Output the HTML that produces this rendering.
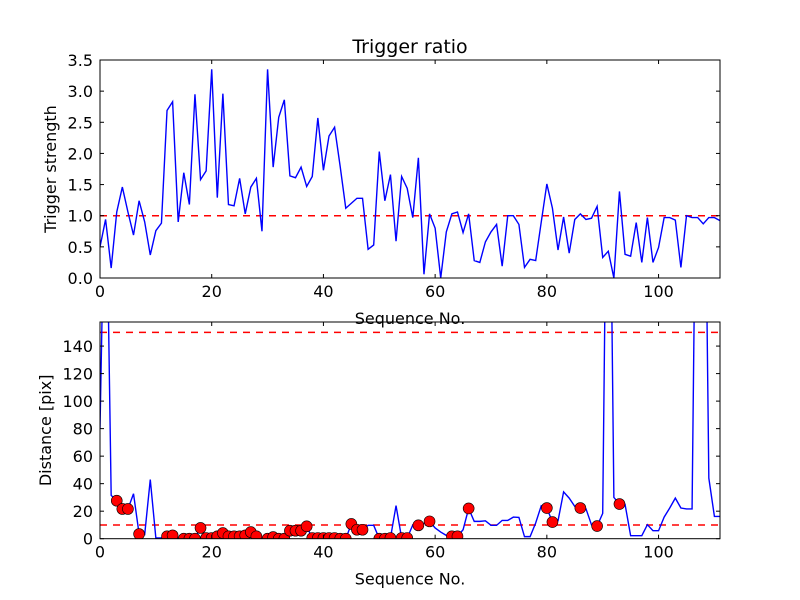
<!DOCTYPE html>
<html><head><meta charset="utf-8">
<style>
html,body{margin:0;padding:0;background:#fff;}
svg{display:block;font-family:"DejaVu Sans","Liberation Sans",sans-serif;}
</style></head>
<body>
<svg id="fig" width="800" height="600" viewBox="0 0 800 600">
<rect width="800" height="600" fill="#fff"/>
<defs>
<clipPath id="c1"><rect x="100" y="60" width="620" height="218"/></clipPath>
<clipPath id="c2"><rect x="100" y="322" width="620" height="216.7"/></clipPath>
</defs>
<g id="g1"></g>
<g id="g2"></g>
</svg>
<script>
const ratioValues = [0.50,0.94,0.16,1.06,1.46,1.06,0.69,1.24,0.90,0.37,0.76,0.88,2.69,2.83,0.90,1.69,1.18,2.95,1.58,1.72,3.35,1.29,2.96,1.18,1.16,1.60,1.03,1.46,1.60,0.75,3.35,1.78,2.58,2.86,1.64,1.61,1.78,1.47,1.63,2.57,1.73,2.28,2.42,1.79,1.12,1.20,1.28,1.28,0.46,0.53,2.03,1.24,1.66,0.59,1.63,1.44,0.97,1.93,0.06,1.03,0.80,0.00,0.74,1.03,1.06,0.73,1.03,0.28,0.25,0.58,0.74,0.86,0.19,1.00,1.00,0.86,0.17,0.30,0.28,0.90,1.51,1.12,0.45,0.98,0.40,0.94,1.03,0.94,0.96,1.15,0.33,0.43,0.00,1.39,0.38,0.35,0.89,0.25,0.97,0.25,0.49,0.97,0.97,0.93,0.17,1.00,0.97,0.97,0.87,0.97,0.97,0.92];
const distanceValues = [80,300,31.5,27.6,21.6,21.6,32.7,3.4,3,43,0.5,0.5,1.7,2.4,0.5,0,0,0,7.8,0.5,0.5,1.7,4.1,1.7,1.7,1.7,2.4,4.8,1.7,0.5,0,1.2,0,0,5.8,5.8,5.8,9,0.5,0.5,0.5,0.5,0.5,0,0,10.7,6.5,6.5,9.7,9.7,0,0,0.5,24,0.5,0.5,10,9.7,11,12.6,7.8,4.8,2.4,1.7,1.7,6.5,22,12.6,12.6,13,9.7,9.7,13.3,13.3,15.7,15.5,1.5,1.5,11.4,24,22.3,12.1,13,34,29.5,23.5,22.3,21.8,10,9.2,18.4,400,30,25.2,25,2.2,2.2,2.2,10.2,5.8,5.8,15.7,22.3,29.5,22.3,21.6,21.6,400,400,44,16.2,16.2];
const markerIndices = [3,4,5,7,12,13,15,16,17,18,19,20,21,22,23,24,25,26,27,28,30,31,32,33,34,35,36,37,38,39,40,41,42,43,44,45,46,47,50,51,52,54,55,57,59,63,64,66,80,81,86,89,93];
const xTicks = [0,20,40,60,80,100];
const yTicks1 = [0.0,0.5,1.0,1.5,2.0,2.5,3.0,3.5];
const yTicks2 = [0,20,40,60,80,100,120,140];
const ratioThreshold = [1.0];
const distanceThresholds = [150,10];

const NS='http://www.w3.org/2000/svg';
function mk(parent,tag,attrs){const e=document.createElementNS(NS,tag);for(const k in attrs)e.setAttribute(k,attrs[k]);parent.appendChild(e);return e;}
const L=100,R=720,XMAX=111;
const xs=v=>L+v*(R-L)/XMAX;
const T1=60,B1=278,Y1MAX=3.5;
const ys1=v=>B1-v*(B1-T1)/Y1MAX;
const T2=322,B2=538.7,Y2MAX=157.5;
const ys2=v=>B2-v*(B2-T2)/Y2MAX;

function axes(g,T,B,ys,yt,fmt,clip,xlabel,ylabel,ylabx){
  const lines=mk(g,'g',{});
  
  
  xTicks.forEach(t=>{
    const x=xs(t);
    mk(lines,'line',{x1:x,x2:x,y1:B,y2:B-4,stroke:'#000','stroke-width':1});
    mk(lines,'line',{x1:x,x2:x,y1:T,y2:T+4,stroke:'#000','stroke-width':1});
    const tx=mk(g,'text',{x:x,y:B+19,'text-anchor':'middle','font-size':16});
    tx.textContent=t;
    
    
  });
  yt.forEach(t=>{
    const y=ys(t);
    mk(lines,'line',{x1:L,x2:L+4,y1:y,y2:y,stroke:'#000','stroke-width':1});
    mk(lines,'line',{x1:R,x2:R-4,y1:y,y2:y,stroke:'#000','stroke-width':1});
    const tx=mk(g,'text',{x:L-7,y:y+6,'text-anchor':'end','font-size':16});
    tx.textContent=fmt(t);
    
    
  });
  const xl=mk(g,'text',{x:410,y:B+46,'text-anchor':'middle','font-size':16});
  xl.textContent=xlabel;
  
  
  const yl=mk(g,'text',{x:ylabx,y:(T+B)/2,'text-anchor':'middle','font-size':16,transform:`rotate(-90 ${ylabx} ${(T+B)/2})`});
  yl.textContent=ylabel;
  
  
}

// top plot
const g1=document.getElementById('g1');
const th1=mk(g1,'line',{x1:L,x2:R,y1:ys1(ratioThreshold[0]),y2:ys1(ratioThreshold[0]),stroke:'#ff0000','stroke-width':1.5,'stroke-dasharray':'7,6'});


const p1=mk(g1,'polyline',{points:ratioValues.map((v,i)=>xs(i)+','+ys1(v)).join(' '),fill:'none',stroke:'#0000ff','stroke-width':1.4,'clip-path':'url(#c1)'});


const f1=mk(g1,'rect',{x:L,y:T1,width:R-L,height:B1-T1,fill:'none',stroke:'#000','stroke-width':1});


axes(g1,T1,B1,ys1,yTicks1,t=>t.toFixed(1),'c1','Sequence No.','Trigger strength',56);
const title=mk(g1,'text',{x:410,y:53,'text-anchor':'middle','font-size':19});
title.textContent='Trigger ratio';



// bottom plot
const g2=document.getElementById('g2');
distanceThresholds.forEach(v=>{
  const l=mk(g2,'line',{x1:L,x2:R,y1:ys2(v),y2:ys2(v),stroke:'#ff0000','stroke-width':1.5,'stroke-dasharray':'7,6'});
  
  
});
const p2=mk(g2,'polyline',{points:distanceValues.map((v,i)=>xs(i)+','+ys2(v)).join(' '),fill:'none',stroke:'#0000ff','stroke-width':1.4,'clip-path':'url(#c2)'});


const mg=mk(g2,'g',{'clip-path':'url(#c2)'});
markerIndices.forEach(i=>{
  const c=mk(mg,'circle',{cx:xs(i),cy:ys2(distanceValues[i]),r:5.5,fill:'#ff0000',stroke:'#000','stroke-width':0.6});
  
  
});
const f2=mk(g2,'rect',{x:L,y:T2,width:R-L,height:B2-T2,fill:'none',stroke:'#000','stroke-width':1});


axes(g2,T2,B2,ys2,yTicks2,t=>String(t),'c2','Sequence No.','Distance [pix]',51);
</script>
</body></html>
